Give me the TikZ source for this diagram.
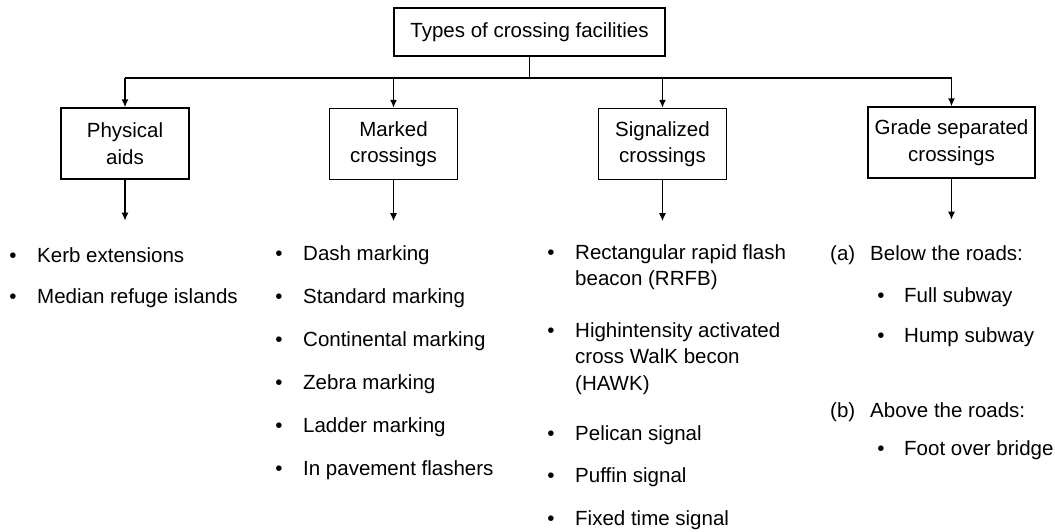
\documentclass[tikz,border=0pt]{standalone}
\usepackage{fontspec}
\setmainfont{Liberation Sans}
\usepackage{tikz}
\usetikzlibrary{arrows.meta}

\newcommand{\stacklines}[1]{\vtop{\halign{##\hfil\cr #1\crcr}}}

\tikzset{
  txt/.style={font=\fontsize{20.5}{26.5}\selectfont, inner sep=0pt},
  box/.style={txt, draw, line width=1.4pt, minimum width=128pt, minimum height=71pt, align=center},
  item/.style={txt, anchor=base west},
  bul/.style={txt, anchor=base},
  arr/.style={-{Latex[length=8pt,width=7pt]}, line width=1.4pt}
}

\begin{document}
\begin{tikzpicture}[x=1pt,y=-1pt]
  \useasboundingbox (0,0) rectangle (1055,531);

  % boxes
  \node[box, minimum width=271pt, minimum height=48pt] (types) at (529.5,32) {Types of crossing facilities};
  \node[box] (phys) at (125,143.5) {Physical\\aids};
  \node[box] (mark) at (393.5,144) {Marked\\crossings};
  \node[box] (sig) at (662.5,144) {Signalized\\crossings};
  \node[box, minimum width=167pt] (grade) at (951.5,142.5) {Grade separated\\crossings};

  % bus line
  \coordinate (bus) at (529.5,78);
  \draw[line width=1.4pt] (types.south) -- (bus);
  \draw[line width=1.4pt] (phys.north |- bus) -- (grade.north |- bus);
  \foreach \n in {phys,mark,sig,grade}
  {
    \draw[arr] (\n.north |- bus) -- (\n.north);
    \draw[arr] (\n.south) -- ([yshift=-41pt]\n.south) coordinate (\n-tip);
  }

  % physical aids
  \foreach \y/\t [count=\i] in {262/Kerb extensions, 303/Median refuge islands}
  {
    \node[bul] (phys-b\i) at (13,\y) {•};
    \node[item] (phys-i\i) at (37,\y) {\t};
  }

  % marked crossings
  \foreach \y/\t [count=\i] in {260/Dash marking, 303/Standard marking, 346/Continental marking,
                                389/Zebra marking, 432/Ladder marking, 475/In pavement flashers}
  {
    \node[bul] (mark-b\i) at (279,\y) {•};
    \node[item] (mark-i\i) at (303,\y) {\t};
  }

  % signalized crossings
  \foreach \y/\t [count=\i] in {259/{\stacklines{Rectangular rapid flash\cr beacon (RRFB)}},
                                337/{\stacklines{Highintensity activated\cr cross WalK becon\cr (HAWK)}},
                                440/Pelican signal, 482/Puffin signal, 525/Fixed time signal}
  {
    \node[bul] (sig-b\i) at (551,\y) {•};
    \node[item] (sig-i\i) at (575,\y) {\t};
  }

  % grade separated crossings
  \node[item] (grade-a) at (830,260) {(a)};
  \node[item] (grade-below) at (870,260) {Below the roads:};
  \node[bul] (grade-b1) at (881,302) {•};
  \node[item] (grade-i1) at (904,302) {Full subway};
  \node[bul] (grade-b2) at (881,342) {•};
  \node[item] (grade-i2) at (904,342) {Hump subway};
  \node[item] (grade-b) at (830,417) {(b)};
  \node[item] (grade-above) at (870,417) {Above the roads:};
  \node[bul] (grade-b3) at (881,455) {•};
  \node[item] (grade-i3) at (904,455) {Foot over bridge};
\end{tikzpicture}
\end{document}
